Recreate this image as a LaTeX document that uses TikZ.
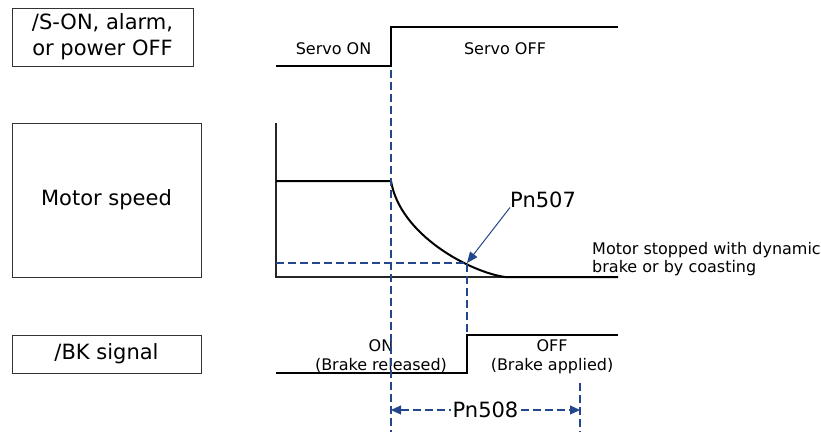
\documentclass[tikz,border=0pt]{standalone}
\usepackage{fontspec}
\setmainfont{DejaVu Sans}
\usetikzlibrary{arrows.meta}
\definecolor{guideblue}{RGB}{36,70,140}
\definecolor{boxgray}{RGB}{51,51,51}
\tikzset{
  lblbox/.style  ={draw=boxgray, line width=1pt, align=center, inner sep=0pt,
                   font=\fontsize{21}{26}\selectfont},
  sigline/.style ={line width=2pt, draw=black},
  axline/.style  ={line width=1.1pt, draw=black!85},
  guide/.style   ={line width=1.1pt, draw=guideblue, dash pattern=on 8pt off 4pt},
  parrow/.style  ={-{Triangle[length=11pt,width=9pt]}, line width=1pt, draw=guideblue},
  dimarrow/.style={{Triangle[length=10pt,width=9pt]}-{Triangle[length=10pt,width=9pt]}, guide},
  smalltxt/.style={font=\fontsize{16}{17.5}\selectfont, align=center, inner sep=0pt},
  bigtxt/.style  ={font=\fontsize{21}{24}\selectfont, inner sep=0pt},
}

\begin{document}
\begin{tikzpicture}[x=1pt, y=-1pt]
  \useasboundingbox (0,0) rectangle (821,432);

  % ---- label boxes ----
  \node[lblbox, minimum width=181pt, minimum height=58pt] (sonbox) at (102.5,37)
    {/S-ON, alarm,\\or power OFF};
  \node[lblbox, minimum width=189pt, minimum height=154pt] (spdbox) at (106.5,200)
    {Motor speed};
  \node[lblbox, minimum width=189pt, minimum height=38pt] (bkbox) at (106.5,354)
    {/BK signal};

  % ---- servo signal ----
  \coordinate (s0) at (276,66);
  \coordinate (s1) at (391,66);
  \coordinate (s2) at (391,27);
  \coordinate (s3) at (618,27);
  \draw[sigline] (s0) -- (s1) -- (s2) -- (s3);
  \node[smalltxt, anchor=base] (servoon)  at (333.5,54) {Servo ON};
  \node[smalltxt, anchor=base] (servooff) at (505,54)   {Servo OFF};

  % ---- motor speed ----
  \coordinate (ax0) at (276,123);
  \coordinate (axo) at (276,277);
  \coordinate (ax1) at (618,277);
  \draw[axline] (ax0) -- (axo) -- (ax1);

  \coordinate (v0) at (276,181);
  \coordinate (v1) at (391,181);
  \coordinate (vs) at (467,263);
  \coordinate (v2) at (505,277);
  \draw[sigline] (v0) -- (v1) .. controls (400,235) and (470,272) .. (v2) -- (ax1);

  \node[bigtxt, anchor=base west] (pn507) at (510,207) {Pn507};
  \draw[parrow] (pn507.south west) -- (vs);

  \node[smalltxt, anchor=west, align=left] (stopnote) at (592,259)
    {Motor stopped with dynamic\\brake or by coasting};

  % ---- brake signal ----
  \coordinate (b0) at (276,373);
  \coordinate (b1) at (467,373);
  \coordinate (b2) at (467,335);
  \coordinate (b3) at (618,335);
  \draw[sigline] (b0) -- (b1) -- (b2) -- (b3);
  \node[smalltxt, font=\fontsize{16}{19}\selectfont] (bkon)  at (381,356.5)
    {ON\\(Brake released)};
  \node[smalltxt, font=\fontsize{16}{19}\selectfont] (bkoff) at (552,356.5)
    {OFF\\(Brake applied)};

  % ---- guides ----
  \coordinate (thr)   at (276,263);
  \coordinate (g1top) at (391,70);
  \coordinate (g1bot) at (391,432);
  \coordinate (g2top) at (580,383);
  \coordinate (g2bot) at (580,432);
  \draw[guide] (g1top) -- (g1bot);
  \draw[guide] (thr) -- (vs) -- (b2);
  \draw[guide] (g2top) -- (g2bot);

  \coordinate (dL) at (391,410);
  \coordinate (dR) at (580,410);
  \draw[dimarrow] (dL) -- node[bigtxt, fill=white, inner xsep=1.5pt] (pn508) {Pn508} (dR);

\end{tikzpicture}
\end{document}
